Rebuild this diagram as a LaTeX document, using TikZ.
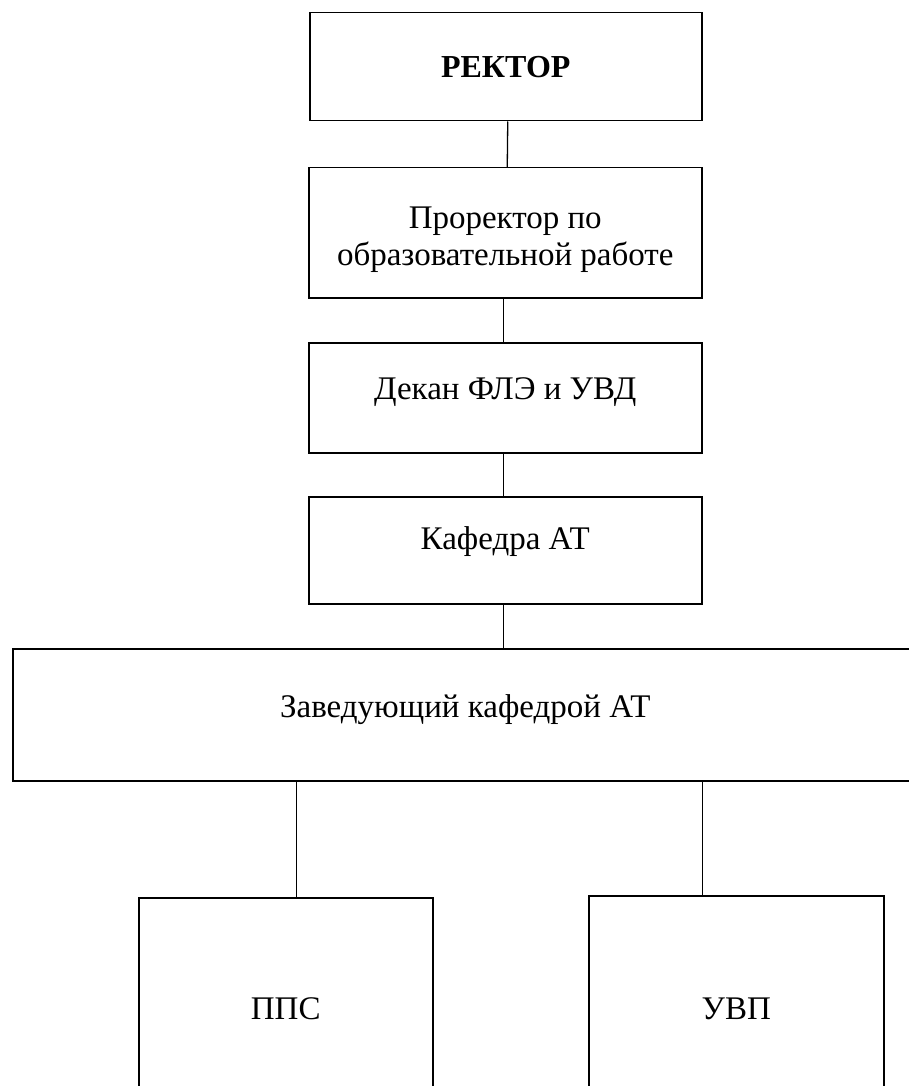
\documentclass[tikz,border=0pt]{standalone}
\usepackage{fontspec}
\setmainfont{Liberation Serif}
\begin{document}
\begin{tikzpicture}[x=1pt,y=-1pt,
  box/.style={draw=black, line width=1.5pt, anchor=north west, inner sep=0pt,
    align=center, font=\fontsize{33}{37}\selectfont, text height=22pt},
  conn/.style={draw=black, line width=1.3pt}]
\useasboundingbox (0,0) rectangle (909,1086);
\clip (0,0) rectangle (909,1086);
\fill[white] (0,0) rectangle (909,1086);
\node[box, minimum width=392pt, minimum height=108pt, text depth=0pt,
  font=\fontsize{32}{36}\selectfont\bfseries] (rector) at (309,12) {РЕКТОР};
\node[box, minimum width=393pt, minimum height=130pt, text height=72pt, text depth=,
  font=\fontsize{33}{37}\selectfont] (pror) at (308,167)
  {Проректор по\\образовательной работе};
\node[box, minimum width=393pt, minimum height=110pt, text depth=18pt] (dean) at (308,342) {Декан ФЛЭ и УВД};
\node[box, minimum width=393pt, minimum height=107pt, text depth=23pt] (kaf) at (308,496) {Кафедра АТ};
\node[box, minimum width=905pt, minimum height=132pt, text depth=16pt] (head) at (12,648) {Заведующий кафедрой АТ};
\node[box, minimum width=294pt, minimum height=222pt, text depth=0pt] (pps) at (138,897) {ППС};
\node[box, minimum width=295pt, minimum height=226pt, text depth=0pt] (uvp) at (588,895) {УВП};
\draw[conn] ([xshift=2pt]rector.south) -- ([xshift=2pt]pror.north);
\draw[conn] ([xshift=-1.5pt]pror.south) -- ([xshift=-1.5pt]dean.north);
\draw[conn] ([xshift=-1.5pt]dean.south) -- ([xshift=-1.5pt]kaf.north);
\draw[conn] ([xshift=-1.5pt]kaf.south) -- ([xshift=-1.5pt]kaf.south |- head.north);
\draw[conn] ([xshift=11pt]pps.north) -- ([xshift=11pt]pps.north |- head.south);
\draw[conn] ([xshift=-33.5pt]uvp.north) -- ([xshift=-33.5pt]uvp.north |- head.south);
\end{tikzpicture}
\end{document}
